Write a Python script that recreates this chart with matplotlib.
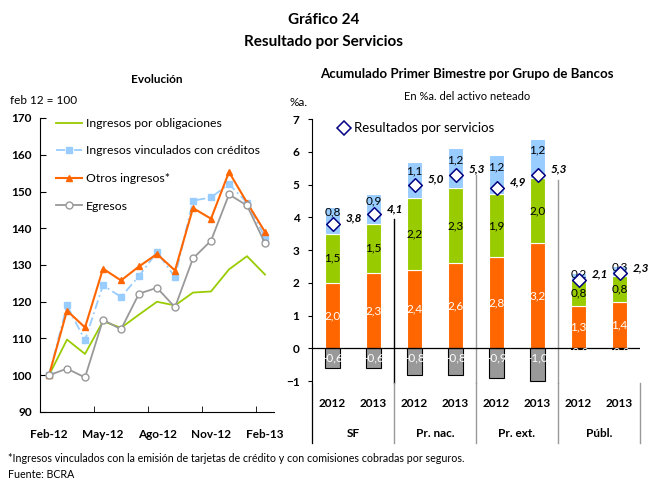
import numpy as np
import matplotlib
matplotlib.use("Agg")
import matplotlib.pyplot as plt
from matplotlib.lines import Line2D

plt.rcParams["font.family"] = ["Lato", "DejaVu Sans"]

# --- datos: evolución (feb 12 = 100) ---
months = ["Feb-12", "Mar-12", "Abr-12", "May-12", "Jun-12", "Jul-12", "Ago-12",
          "Sep-12", "Oct-12", "Nov-12", "Dic-12", "Ene-13", "Feb-13"]
obligaciones = [100, 109.7, 105.8, 114.7, 112.9, 116.5, 120.0, 119.0, 122.5, 122.8, 128.8, 132.4, 127.4]
creditos = [100, 119.0, 109.5, 124.5, 121.3, 127.0, 133.5, 126.7, 147.5, 148.4, 152.0, 147.0, 137.5]
otros = [100, 117.6, 113.0, 129.0, 125.8, 129.6, 133.0, 128.5, 145.5, 142.6, 155.3, 147.0, 139.0]
egresos = [100, 101.8, 99.4, 115.1, 112.5, 122.2, 123.8, 118.5, 131.8, 136.6, 149.2, 146.2, 135.9]

# --- datos: acumulado primer bimestre ---
years = ["2012", "2013"] * 4
groups = ["SF", "Pr. nac.", "Pr. ext.", "Públ."]
bar_orange = [2.0, 2.3, 2.4, 2.6, 2.8, 3.2, 1.3, 1.4]
bar_green = [1.5, 1.5, 2.2, 2.3, 1.9, 2.0, 0.8, 0.8]
bar_blue = [0.8, 0.9, 1.1, 1.2, 1.2, 1.2, 0.2, 0.3]
bar_gray = [-0.6, -0.6, -0.8, -0.8, -0.9, -1.0, -0.03, -0.03]
resultados = [3.8, 4.1, 5.0, 5.3, 4.9, 5.3, 2.1, 2.3]

c_orange = "#FF6600"
c_green = "#99CC00"
c_blue = "#99CCFF"
c_gray = "#999999"


def fmt(v):
    return f"{v:.1f}".replace(".", ",")


fig = plt.figure(figsize=(6.48, 4.8), dpi=100)

fig.text(0.5, 0.958, "Gráfico 24", ha="center", va="center", fontsize=11, fontweight="bold")
fig.text(0.5, 0.912, "Resultado por Servicios", ha="center", va="center", fontsize=11, fontweight="bold")

# ---------------- izquierda ----------------
ax1 = fig.add_axes([40 / 648, 1 - 412 / 480, 234 / 648, 294 / 480])
x = np.arange(len(months))
ax1.plot(x, obligaciones, color=c_green, lw=1.3, label="Ingresos por obligaciones")
ax1.plot(x, creditos, color=c_blue, lw=1.3, ls=(0, (5, 2, 1, 2)), marker="s", ms=5,
         label="Ingresos vinculados con créditos")
ax1.plot(x, otros, color=c_orange, lw=1.5, marker="^", ms=5, label="Otros ingresos*")
ax1.plot(x, egresos, color=c_gray, lw=1.3, marker="o", ms=5, mfc="white", mec=c_gray,
         label="Egresos")

ax1.set_xlim(-0.5, 12.5)
ax1.set_ylim(90, 170)
ax1.set_yticks(range(90, 171, 10))
ax1.set_xticks(x[::3])
ax1.set_xticklabels(months[::3])
ax1.set_xticks([2.5, 5.5, 8.5, 11.5], minor=True)
ax1.tick_params(axis="x", which="major", length=0, pad=12)
ax1.tick_params(axis="x", which="minor", direction="in", length=4)
ax1.tick_params(axis="y", direction="in", length=4, pad=6)
for lab in ax1.get_xticklabels() + ax1.get_yticklabels():
    lab.set_fontweight("bold")
    lab.set_fontsize(8.5)
for s in ["top", "right"]:
    ax1.spines[s].set_visible(False)
ax1.legend(loc="upper left", bbox_to_anchor=(0.07, 1.0), frameon=False, fontsize=8.8,
           handlelength=2.1, handletextpad=0.35, labelspacing=1.35, borderpad=0, borderaxespad=0)
ax1.text(0.5, 1.13, "Evolución", transform=ax1.transAxes, ha="center", va="center",
         fontsize=8.5, fontweight="bold")
ax1.text(-0.13, 1.058, "feb 12 = 100", transform=ax1.transAxes, ha="left", va="center", fontsize=8.5)

# ---------------- derecha ----------------
ymin = -2.89
ax2 = fig.add_axes([312 / 648, 1 - 443 / 480, 328 / 648, 324 / 480])
xb = np.arange(len(years))
w = 0.38
ax2.bar(xb, bar_orange, w, color=c_orange, edgecolor="white", lw=0.8, zorder=2)
bot2 = np.array(bar_orange)
ax2.bar(xb, bar_green, w, bottom=bot2, color=c_green, edgecolor="white", lw=0.8, zorder=2)
bot3 = bot2 + np.array(bar_green)
ax2.bar(xb, bar_blue, w, bottom=bot3, color=c_blue, edgecolor="white", lw=0.8, zorder=2)
top = bot3 + np.array(bar_blue)
ax2.bar(xb, bar_gray, w, color=c_gray, edgecolor="black", lw=0.8, zorder=2)
ax2.axhline(0, color="black", lw=0.9, zorder=3)

lab_kw = dict(ha="center", va="center", fontsize=8.5, zorder=5)
for i in xb:
    ax2.text(i, bar_orange[i] / 2, fmt(bar_orange[i]), color="white", **lab_kw)
    ax2.text(i, bot2[i] + bar_green[i] / 2, fmt(bar_green[i]), color="black", **lab_kw)
    yb = min(bot3[i] + bar_blue[i] / 2 + 0.25, top[i] - 0.02)
    ax2.text(i, yb, fmt(bar_blue[i]), color="black", **lab_kw)
    gl = -0.3 if bar_gray[i] < -0.1 else -0.1
    ax2.text(i, gl, fmt(bar_gray[i]) if bar_gray[i] < -0.1 else "-0,2", color="white", **lab_kw)
    ax2.text(i + 0.53, resultados[i] + 0.17, fmt(resultados[i]), ha="center", va="center",
             fontsize=8.5, fontweight="bold", fontstyle="italic", zorder=5, clip_on=False)

ax2.scatter(xb, resultados, marker="D", s=48, facecolor="white", edgecolor="#000080",
            lw=1.1, zorder=6)

# separadores de grupo
sep_tops = {1.5: (resultados[1] - 0.15, "black"), 3.5: (resultados[3], c_gray),
            5.5: (resultados[5] - 0.15, c_gray)}
for xs, (yt, col) in sep_tops.items():
    ax2.plot([xs, xs], [yt, -1.05], color=col, lw=1.0, zorder=1)
for xs in [-0.5, 1.5, 3.5, 5.5, 7.5]:
    ax2.plot([xs, xs], [-1.05, ymin], color=c_gray, lw=1.0, clip_on=False, zorder=1)

for i in xb:
    ax2.text(i, -1.67, years[i], ha="center", va="center", fontsize=8.5, fontweight="bold")
for g, name in enumerate(groups):
    ax2.text(2 * g + 0.5, -2.61, name, ha="center", va="center", fontsize=8.5, fontweight="bold")

ax2.set_xlim(-0.5, 7.5)
ax2.set_ylim(ymin, 7)
ax2.set_yticks(range(-1, 8))
ax2.set_xticks([])
ax2.tick_params(axis="y", direction="out", length=3, pad=6)
for lab in ax2.get_yticklabels():
    lab.set_fontweight("bold")
    lab.set_fontsize(8.5)
for s in ["top", "right", "bottom"]:
    ax2.spines[s].set_visible(False)

h = Line2D([], [], marker="D", ls="none", ms=7, mfc="white", mec="#000080", mew=1.1)
ax2.legend([h], ["Resultados por servicios"], loc="upper left", bbox_to_anchor=(0.08, 0.99),
           frameon=False, fontsize=9.5, handlelength=0.8, handletextpad=0.4, borderpad=0,
           borderaxespad=0)

fig.text(467 / 648, 1 - 74 / 480, "Acumulado Primer Bimestre por Grupo de Bancos", ha="center",
         va="center", fontsize=9.5, fontweight="bold")
fig.text(467 / 648, 1 - 97 / 480, "En %a. del activo neteado", ha="center", va="center", fontsize=8)
fig.text(290 / 648, 1 - 102 / 480, "%a.", ha="left", va="center", fontsize=8.5)

fig.text(8 / 648, 1 - 459 / 480,
         "*Ingresos vinculados con la emisión de tarjetas de crédito y con comisiones cobradas por seguros.",
         ha="left", va="center", fontsize=7.7)
fig.text(8 / 648, 1 - 475 / 480, "Fuente: BCRA", ha="left", va="center", fontsize=7.7)

fig.savefig("out.png", dpi=100)
